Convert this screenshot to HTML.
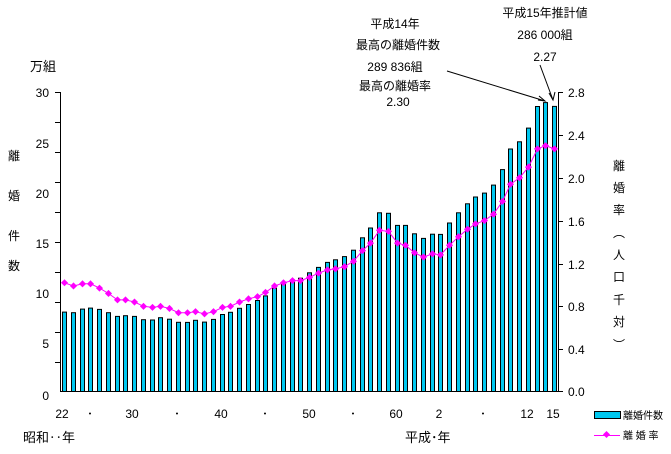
<!DOCTYPE html><html><head><meta charset="utf-8"><style>body{margin:0;background:#fff}svg text{font-family:"Liberation Sans","Noto Sans CJK JP",sans-serif;font-size:12px;fill:#000}.t{font-size:13px}</style></head><body>
<svg width="671" height="449" xmlns="http://www.w3.org/2000/svg">
<g id="bars" fill="#00C8F0" stroke="#000" stroke-width="1"></g>
<polyline id="ln" fill="none" stroke="#FF00FF" stroke-width="1"/>
<g id="mk" fill="#FF00FF"></g>
<g stroke="#000" stroke-width="1" fill="none">
<path d="M60.5 92V391.5H558.5V92"/>
<path d="M55 92.5h5M55 122.5h5M55 152.5h5M55 182.5h5M55 212.5h5M55 242.5h5M55 272.5h5M55 302.5h5M55 332.5h5M55 362.5h5"/>
<path d="M558 92.5h5M558 135.5h5M558 178.5h5M558 221.5h5M558 264.5h5M558 306.5h5M558 349.5h5M558 391.5h5"/>
<path d="M447 71L545 101M540 65L553 100"/>
<path d="M539 96L545 101L538 100M549 93L553 100L555 92"/>
</g>
<g text-anchor="end" class="t">
<text x="49" y="97">30</text><text x="49" y="148">25</text><text x="49" y="198">20</text><text x="49" y="248">15</text><text x="49" y="298">10</text><text x="49" y="348">5</text><text x="49" y="400">0</text>
</g>
<g class="t">
<text x="568" y="97">2.8</text><text x="568" y="140">2.4</text><text x="568" y="183">2.0</text><text x="568" y="226">1.6</text><text x="568" y="269">1.2</text><text x="568" y="311">0.8</text><text x="568" y="354">0.4</text><text x="568" y="396">0.0</text>
</g>
<g text-anchor="middle">
<g class="t"><text x="62" y="418">22</text><text x="90" y="418">･</text><text x="132" y="418">30</text><text x="177" y="418">･</text><text x="221" y="418">40</text><text x="265" y="418">･</text><text x="309" y="418">50</text><text x="353" y="418">･</text><text x="396" y="418">60</text><text x="439" y="418">2</text><text x="483" y="418">･</text><text x="527" y="418">12</text><text x="553" y="418">15</text></g>
<text x="14" y="160">離</text><text x="14" y="200">婚</text><text x="14" y="240">件</text><text x="14" y="270">数</text>
<text x="619" y="170">離</text><text x="619" y="192">婚</text><text x="619" y="214">率</text><text x="619" y="237">︵</text><text x="619" y="259">人</text><text x="619" y="281">口</text><text x="619" y="304">千</text><text x="619" y="326">対</text><text x="619" y="349">︶</text>
<text x="395" y="28">平成14年</text><text x="398" y="49">最高の離婚件数</text><text x="395" y="71">289 836組</text><text x="395" y="90">最高の離婚率</text><text x="398" y="106">2.30</text>
<text x="545" y="17">平成15年推計値</text><text x="545" y="39">286 000組</text><text x="545" y="61">2.27</text>
</g>
<text x="30" y="71" class="t">万組</text>
<text x="23" y="442" class="t">昭和‥年</text>
<text x="405" y="442" class="t">平成･年</text>
<rect x="594.5" y="411.5" width="26" height="7" fill="#00C8F0" stroke="#000"/>
<text x="623" y="419" style="font-size:10px">離婚件数</text>
<path d="M594 435.5H620" stroke="#FF00FF"/><rect x="604" y="432" width="5" height="5" fill="#FF00FF" transform="rotate(45 606.5 434.5)"/>
<text x="623" y="439" style="font-size:10px">離 婚 率</text>
</svg>
<script>
var c=[79.6,79.0,82.6,83.7,82.3,79.0,75.3,76.0,75.3,72.0,71.7,74.0,72.5,69.4,69.3,71.4,69.6,72.3,77.2,79.4,83.5,87.3,91.3,95.9,103.6,108.4,111.9,113.6,119.1,124.5,129.5,132.1,135.3,141.7,154.2,164.0,179.2,178.7,166.6,166.6,158.2,153.6,157.8,157.6,169.0,179.2,188.3,195.1,199.0,207.0,222.6,243.2,250.5,264.2,285.9,289.8,286.0];
var r=[1.02,0.99,1.01,1.01,0.97,0.92,0.86,0.86,0.84,0.80,0.79,0.80,0.78,0.74,0.74,0.75,0.73,0.75,0.79,0.80,0.84,0.87,0.89,0.93,0.99,1.02,1.04,1.04,1.07,1.11,1.14,1.15,1.17,1.22,1.32,1.39,1.51,1.50,1.39,1.37,1.30,1.26,1.29,1.28,1.37,1.45,1.52,1.57,1.60,1.66,1.78,1.94,2.00,2.10,2.27,2.30,2.27];
var ns="http://www.w3.org/2000/svg",b=document.getElementById('bars'),m=document.getElementById('mk'),pts=[];
for(var i=0;i<c.length;i++){var x=62+i*8.75,h=c[i]*0.997,e=document.createElementNS(ns,'rect');
e.setAttribute('x',(Math.round(x)+0.5));e.setAttribute('y',(391.5-h).toFixed(1));e.setAttribute('width',4);e.setAttribute('height',h.toFixed(1));b.appendChild(e);
var cx=Math.round(x)+2.5,cy=392-r[i]*107.1;pts.push(cx+','+cy.toFixed(1));
var d=document.createElementNS(ns,'rect');d.setAttribute('x',cx-2.5);d.setAttribute('y',cy-2.5);d.setAttribute('width',5);d.setAttribute('height',5);d.setAttribute('transform','rotate(45 '+cx+' '+cy+')');m.appendChild(d);}
document.getElementById('ln').setAttribute('points',pts.join(' '));
</script>
</body></html>
